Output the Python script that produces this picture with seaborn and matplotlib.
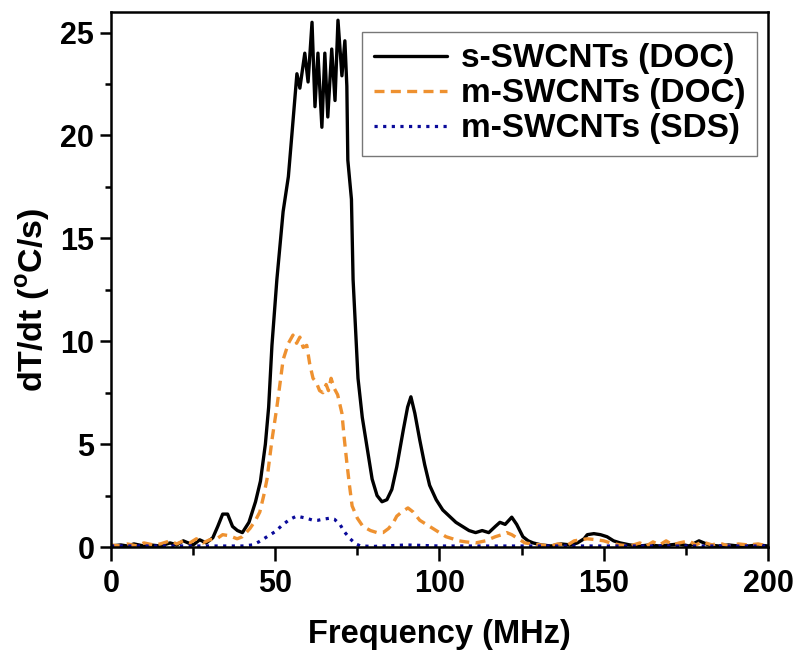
import numpy as np
import pandas as pd
import matplotlib
matplotlib.use('Agg')
import matplotlib.pyplot as plt
import seaborn as sns
from matplotlib.ticker import MultipleLocator

# Heating rate spectra
freq_s = [0, 3, 5, 7, 10, 12, 15, 18, 20, 22, 25, 27, 29, 31, 32.5, 34, 35.5, 37, 38.5, 40,
          42, 44, 45.5, 47, 48, 49, 50.5, 52.4, 54, 55.1, 56.6, 57.5, 59, 60, 61.2, 62.1, 63,
          64.2, 65.1, 66, 67.2, 68.2, 69.1, 70.3, 71.2, 71.8, 72.1, 73.2, 73.7, 75.2, 76.5,
          77.9, 79.5, 81, 82.5, 84, 85.5, 87, 89, 90.3, 91.3, 92.5, 94, 95.5, 97, 99, 101, 103,
          105, 107, 109, 111, 113, 115, 117, 118.4, 120, 122, 123.5, 125.4, 127, 128.5, 131,
          134, 137, 140, 142, 144, 145, 147, 149, 151, 153, 155, 158, 161, 164, 167, 170, 173,
          176, 179, 182, 185, 188, 191, 194, 197, 200]
rate_s = [0.05, 0.1, 0.05, 0.15, 0.05, 0.1, 0.05, 0.2, 0.1, 0.3, 0.1, 0.35, 0.2, 0.45, 1.0, 1.6,
          1.6, 1.0, 0.8, 0.7, 1.2, 2.2, 3.2, 5.0, 6.8, 9.8, 13.0, 16.3, 18.0, 20.1, 23.0, 22.3,
          24.0, 22.6, 25.5, 21.4, 24.0, 20.4, 24.0, 20.9, 24.2, 21.7, 25.6, 22.9, 24.6, 22.4,
          18.8, 16.9, 13.0, 8.2, 6.3, 4.9, 3.3, 2.5, 2.2, 2.3, 2.8, 3.9, 5.7, 6.8, 7.3, 6.5, 5.2,
          4.0, 3.0, 2.3, 1.8, 1.5, 1.2, 1.0, 0.8, 0.7, 0.8, 0.7, 1.0, 1.2, 1.1, 1.45, 1.1, 0.5,
          0.3, 0.2, 0.1, 0.05, 0.15, 0.1, 0.2, 0.4, 0.6, 0.65, 0.6, 0.5, 0.3, 0.2, 0.1, 0.05,
          0.1, 0.05, 0.1, 0.15, 0.05, 0.3, 0.1, 0.05, 0.1, 0.05, 0.05, 0.1, 0.05]

freq_m = [0, 3, 5, 8, 10, 13, 15, 18, 20, 22, 24, 26, 28, 30, 32.2, 34, 36, 38.4, 40, 42.3, 44,
          45.3, 46.5, 47.5, 49, 50.5, 51.5, 52.4, 54, 55.4, 56.5, 57.5, 58.5, 59.6, 60.5, 61.5,
          62.5, 63.5, 64.5, 65.5, 66.2, 67, 68, 69, 70.3, 71, 71.8, 72.6, 73.4, 75, 76.7, 79, 81,
          82.8, 84.5, 86, 87, 88.5, 90.4, 92, 94, 96, 98, 100, 102, 104, 106, 108, 111, 114, 117,
          119, 120.5, 122, 124, 126, 128, 131, 134, 136, 139, 141, 143, 145, 148, 150, 152, 155,
          158, 161, 163, 165, 167, 169, 171, 173, 176, 178, 180, 183, 185, 188, 191, 194, 197, 200]
rate_m = [0.1, 0.05, 0.15, 0.05, 0.2, 0.1, 0.15, 0.3, 0.15, 0.3, 0.2, 0.4, 0.2, 0.35, 0.4, 0.6,
          0.55, 0.4, 0.5, 0.9, 1.3, 1.7, 2.5, 3.3, 5.2, 6.8, 8.0, 9.1, 9.9, 10.3, 9.9, 10.2, 9.7,
          9.8, 8.9, 8.2, 8.0, 7.6, 7.5, 7.9, 7.6, 8.2, 7.7, 7.4, 6.5, 5.3, 4.1, 3.0, 2.0, 1.4,
          1.0, 0.8, 0.7, 0.7, 0.9, 1.2, 1.5, 1.7, 1.9, 1.7, 1.3, 1.1, 0.9, 0.7, 0.5, 0.4, 0.3,
          0.25, 0.2, 0.3, 0.5, 0.6, 0.7, 0.6, 0.4, 0.2, 0.15, 0.1, 0.05, 0.15, 0.1, 0.3, 0.35,
          0.4, 0.35, 0.3, 0.2, 0.1, 0.05, 0.2, 0.05, 0.25, 0.1, 0.3, 0.1, 0.2, 0.3, 0.1, 0.25,
          0.1, 0.2, 0.05, 0.15, 0.1, 0.15, 0.05]

freq_sds = [0, 10, 20, 30, 40, 43, 45, 47.5, 50, 52.4, 54.5, 56.5, 58, 59.5, 61.5, 63, 64.5,
            66.6, 68, 69.7, 71, 72.8, 74.5, 76, 80, 90, 100, 110, 120, 130, 140, 150, 160, 170,
            180, 190, 200]
rate_sds = [0.05, 0.05, 0.05, 0.05, 0.05, 0.1, 0.25, 0.5, 0.75, 1.1, 1.35, 1.5, 1.45, 1.4, 1.3,
            1.3, 1.35, 1.4, 1.35, 1.1, 0.75, 0.4, 0.15, 0.05, 0.03, 0.1, 0.05, 0.05, 0.05, 0.05,
            0.05, 0.05, 0.05, 0.05, 0.05, 0.05, 0.05]

labels = ['s-SWCNTs (DOC)', 'm-SWCNTs (DOC)', 'm-SWCNTs (SDS)']

sns.set_style('ticks')
plt.rcParams['font.family'] = ['Liberation Sans', 'DejaVu Sans']
plt.rcParams['font.weight'] = 'bold'
plt.rcParams['text.color'] = 'black'
plt.rcParams['axes.labelcolor'] = 'black'
plt.rcParams['xtick.color'] = 'black'
plt.rcParams['ytick.color'] = 'black'
plt.rcParams['mathtext.fontset'] = 'custom'
plt.rcParams['mathtext.rm'] = 'Liberation Sans:bold'
plt.rcParams['mathtext.bf'] = 'Liberation Sans:bold'

fig = plt.figure(figsize=(7.95, 6.53), dpi=100)
ax = fig.add_axes([0.1396, 0.1623, 0.8264, 0.8193])

sns.lineplot(x=freq_s, y=rate_s, ax=ax, color='black', lw=2.4, label=labels[0])
sns.lineplot(x=freq_m, y=rate_m, ax=ax, color='#EE9130', lw=2.4, label=labels[1])
ax.lines[-1].set_dashes((3.0, 1.9))
sns.lineplot(x=freq_sds, y=rate_sds, ax=ax, color='#0A0A9A', lw=2.3, label=labels[2])
ax.lines[-1].set_linestyle((0, (1, 1.7)))

ax.set_xlim(0, 200)
ax.set_ylim(0, 26)
ax.xaxis.set_major_locator(MultipleLocator(50))
ax.xaxis.set_minor_locator(MultipleLocator(25))
ax.yaxis.set_major_locator(MultipleLocator(5))
ax.yaxis.set_minor_locator(MultipleLocator(2.5))
ax.tick_params(axis='x', which='major', direction='out', length=10, width=1.8,
               labelsize=22, pad=6)
ax.tick_params(axis='y', which='major', direction='out', length=8, width=1.8,
               labelsize=22, pad=4)
ax.tick_params(axis='x', which='minor', direction='out', length=6, width=1.8)
ax.tick_params(axis='y', which='minor', direction='out', length=4.5, width=1.8)
for s in ax.spines.values():
    s.set_linewidth(1.8)
    s.set_color('black')

ax.set_xlabel('Frequency (MHz)', fontsize=23.5, fontweight='bold', labelpad=14)
ax.set_ylabel(r'dT/dt ($^{\mathrm{o}}$C/s)', fontsize=24.5, fontweight='bold', labelpad=6)
ax.yaxis.label.set_y(0.462)

leg = ax.legend(loc='upper right', bbox_to_anchor=(0.983, 0.963), borderaxespad=0,
                fontsize=24, handlelength=2.2, labelspacing=0.12, fancybox=False,
                frameon=True, borderpad=0.35, handletextpad=0.4)
leg.get_frame().set_edgecolor('#555555')
leg.get_frame().set_linewidth(1.0)
for t in leg.get_texts():
    t.set_fontweight('bold')

fig.savefig('out.png', dpi=100)
